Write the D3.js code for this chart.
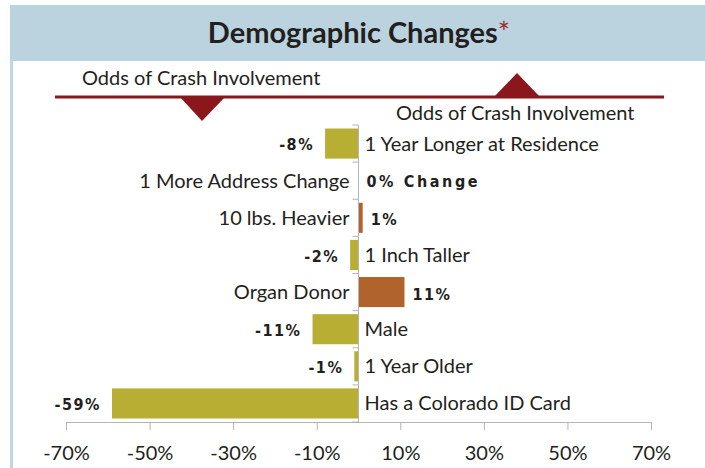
<!DOCTYPE html>
<html>
<head>
<meta charset="utf-8">
<script src="https://cdn.jsdelivr.net/npm/d3@7"></script>
<style>
  html, body { margin: 0; padding: 0; background: #fff; }
  svg { display: block; }
  text { font-family: Lato, "Open Sans", sans-serif; fill: #231f20; }
</style>
</head>
<body>
<svg id="chart" width="705" height="468"></svg>
<script>
// Change in odds of crash involvement for each demographic change (%)
const categories = [
  "1 Year Longer at Residence",
  "1 More Address Change",
  "10 lbs. Heavier",
  "1 Inch Taller",
  "Organ Donor",
  "Male",
  "1 Year Older",
  "Has a Colorado ID Card"
];
const values = [-8, 0, 1, -2, 11, -11, -1, -59];
const tickValues = [-70, -50, -30, -10, 10, 30, 50, 70];
const tickLabels = ["-70%", "-50%", "-30%", "-10%", "10%", "30%", "50%", "70%"];
const title = "Demographic Changes";
const subtitle = "Odds of Crash Involvement";

const svg = d3.select("#chart");
const W = 705, H = 468;

const colorNeg = "#b8ae34";
const colorPos = "#b0632a";
const maroon = "#8a171b";

// header band and left frame
svg.append("rect").attr("x", 10).attr("y", 5).attr("width", W - 10).attr("height", 56)
  .attr("fill", "#bad3de");
svg.append("rect").attr("x", 10).attr("y", 61).attr("width", 3).attr("height", H - 61)
  .attr("fill", "#bfd6e1");

const t = svg.append("text")
  .attr("x", 359).attr("y", 43)
  .attr("text-anchor", "middle")
  .style("font-size", "29px").style("font-weight", "bold");
t.append("tspan").text(title);
t.append("tspan").text("*").style("fill", "#a3262b").style("font-weight", "normal");

// odds indicator: divider with down/up arrows
svg.append("text").attr("x", 82).attr("y", 85).style("font-size", "20px").text(subtitle);
svg.append("line").attr("x1", 55).attr("x2", 664).attr("y1", 97).attr("y2", 97)
  .attr("stroke", maroon).attr("stroke-width", 3);
svg.append("path").attr("d", "M180,97 L225,97 L202,121 Z").attr("fill", maroon);
svg.append("path").attr("d", "M494,97 L540,97 L517,73 Z").attr("fill", maroon);
svg.append("text").attr("x", 396).attr("y", 120).style("font-size", "20px").text(subtitle);

// scales
const x = d3.scaleLinear().domain([-70, 70]).range([66, 651]);
const y = d3.scaleBand().domain(categories).range([125, 422])
  .paddingInner(0.19).paddingOuter(0.095);
const x0 = x(0);
const data = categories.map((c, i) => ({ cat: c, v: values[i] }));

// bottom axis
const xAxis = d3.axisBottom(x)
  .tickValues(tickValues)
  .tickSize(8)
  .tickPadding(16)
  .tickFormat((d, i) => tickLabels[i]);
const ax = svg.append("g").attr("transform", "translate(0,422)").call(xAxis);
ax.select(".domain").attr("stroke", "#b5b5b5");
ax.selectAll(".tick line").attr("stroke", "#b5b5b5");
ax.selectAll(".tick text").style("font-size", "20px").style("font-family", "Lato, sans-serif")
  .attr("fill", "#231f20");

// bars
svg.append("g").selectAll("rect").data(data).join("rect")
  .attr("x", d => x(Math.min(0, d.v)))
  .attr("width", d => Math.abs(x(d.v) - x0))
  .attr("y", d => y(d.cat))
  .attr("height", y.bandwidth())
  .attr("fill", d => d.v < 0 ? colorNeg : colorPos);

// zero axis with category boundary ticks
svg.append("line").attr("x1", x0).attr("x2", x0).attr("y1", 125).attr("y2", 422)
  .attr("stroke", "#b5b5b5");
svg.append("g").selectAll("line").data(d3.range(categories.length + 1)).join("line")
  .attr("x1", x0 - 6).attr("x2", x0)
  .attr("y1", i => 125 + i * y.step()).attr("y2", i => 125 + i * y.step())
  .attr("stroke", "#b5b5b5");

const mid = d => y(d.cat) + y.bandwidth() / 2;

// category labels on the side opposite the bar
svg.append("g").selectAll("text").data(data).join("text")
  .attr("x", d => d.v < 0 ? x0 + 6 : x0 - 9)
  .attr("y", mid)
  .attr("dy", "0.35em")
  .attr("text-anchor", d => d.v < 0 ? "start" : "end")
  .style("font-size", "20px")
  .text(d => d.cat);

// value labels past the bar end
svg.append("g").selectAll("text").data(data).join("text")
  .attr("x", d => d.v < 0 ? x(d.v) - 11 : x(d.v) + 8)
  .attr("y", d => mid(d) + (d.v > 0 ? 2 : 1))
  .attr("dy", "0.35em")
  .attr("text-anchor", d => d.v < 0 ? "end" : "start")
  .style("font-family", "'DejaVu Sans Condensed', 'Liberation Sans Narrow', sans-serif")
  .style("font-weight", "bold")
  .style("font-size", "16px")
  .style("letter-spacing", d => d.v === 0 ? "2.6px" : "1.5px")
  .text(d => d.v === 0 ? "0% Change" : d.v + "%");
</script>
</body>
</html>
